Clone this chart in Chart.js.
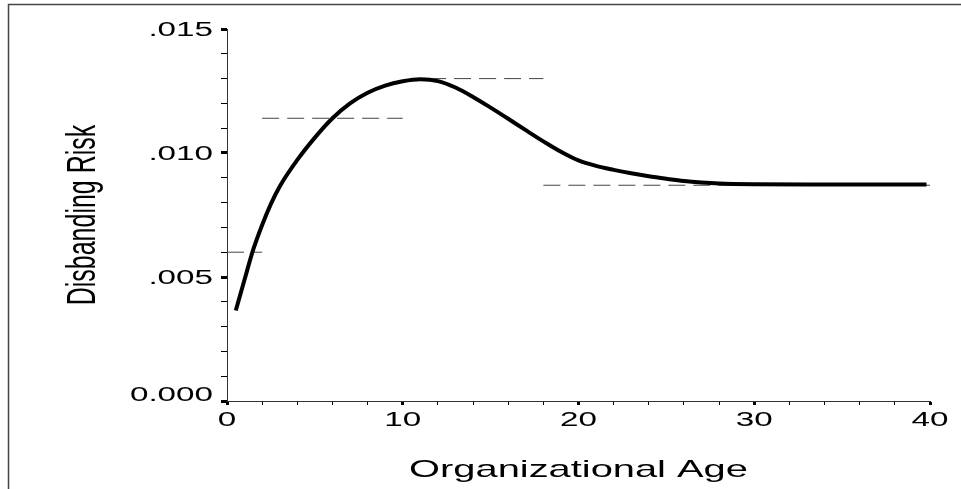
<!DOCTYPE html>
<html>
<head>
<meta charset="utf-8">
<script src="https://cdn.jsdelivr.net/npm/chart.js@4.4.1/dist/chart.umd.min.js"></script>
<style>
  html, body { margin: 0; padding: 0; background: #fff; }
  #wrap { width: 961px; height: 489px; }
</style>
</head>
<body>
<div id="wrap"><canvas id="chart" width="961" height="489"></canvas></div>
<script>
// Curve: organizational age vs disbanding risk
const ages = [0.5, 1, 1.5, 2, 2.5, 3, 4, 5, 6, 7, 8, 9, 10, 11, 12, 13, 14, 15, 16, 17, 18, 19, 20, 21, 22, 23, 24, 25, 26, 27, 28, 30, 33, 36, 39.8];
const risk = [0.00365, 0.00490, 0.00612, 0.00710, 0.00795, 0.00865, 0.00972, 0.01062, 0.01140, 0.01200, 0.01243, 0.01272, 0.01289, 0.01297, 0.01290, 0.01264, 0.01226, 0.01183, 0.01138, 0.01092, 0.01047, 0.01005, 0.00970, 0.00948, 0.00932, 0.00918, 0.00906, 0.00896, 0.00887, 0.00881, 0.00877, 0.00874, 0.00873, 0.00873, 0.00873];

// Piecewise constant estimates (dashed)
const pieceStart = [0, 2, 11.5, 18];
const pieceEnd = [2, 10, 18, 40];
const pieceRisk = [0.0060, 0.0114, 0.0130, 0.0087];

const yLabelTicks = [0, 0.005, 0.010, 0.015];
const yLabels = ["0.000", ".005", ".010", ".015"];
const xLabelTicks = [0, 10, 20, 30, 40];
const xLabels = ["0", "10", "20", "30", "40"];

const xTitle = "Organizational Age";
const yTitle = "Disbanding Risk";

const FONT = '"Liberation Sans", Arial, sans-serif';
const STRETCH = 1.66; // the original figure is stretched sideways

function isMajorY(v) {
  return yLabelTicks.some(t => Math.abs(t - v) < 1e-9);
}

const datasets = [{
  data: ages.map((a, i) => ({ x: a, y: risk[i] })),
  borderColor: "#000",
  borderWidth: 4,
  pointRadius: 0,
  cubicInterpolationMode: "monotone",
  fill: false
}];
pieceRisk.forEach((r, i) => {
  datasets.push({
    data: [{ x: pieceStart[i], y: r }, { x: pieceEnd[i], y: r }],
    borderColor: "#444",
    borderWidth: 1,
    borderDash: [17, 8],
    pointRadius: 0,
    fill: false
  });
});

// outer frame (top and left edges only)
const framePlugin = {
  id: "frame",
  beforeDraw(chart) {
    const ctx = chart.ctx;
    ctx.save();
    ctx.strokeStyle = "#444";
    ctx.lineWidth = 1.5;
    ctx.beginPath();
    ctx.moveTo(8.5, chart.height);
    ctx.lineTo(8.5, 4.5);
    ctx.lineTo(chart.width, 4.5);
    ctx.stroke();
    ctx.restore();
  }
};

function wideText(ctx, text, x, y, align) {
  ctx.save();
  ctx.translate(x, y);
  ctx.scale(STRETCH, 1);
  ctx.textAlign = align;
  ctx.textBaseline = "alphabetic";
  ctx.fillText(text, 0, 0);
  ctx.restore();
}

// tick labels and titles, drawn wide like the original
const textPlugin = {
  id: "wideText",
  afterDraw(chart) {
    const { ctx, chartArea } = chart;
    const xs = chart.scales.x, ys = chart.scales.y;
    ctx.save();
    ctx.fillStyle = "#000";
    ctx.font = "20px " + FONT;
    yLabelTicks.forEach((v, i) => {
      let py = ys.getPixelForValue(v) + 7;
      if (v === 0) py -= 7;
      wideText(ctx, yLabels[i], 213, py, "right");
    });
    xLabelTicks.forEach((v, i) => {
      wideText(ctx, xLabels[i], xs.getPixelForValue(v), 426, "center");
    });
    ctx.font = "24px " + FONT;
    wideText(ctx, xTitle, (chartArea.left + chartArea.right) / 2, 477, "center");

    ctx.font = "25px " + FONT;
    ctx.translate(95, (chartArea.top + chartArea.bottom) / 2);
    ctx.rotate(-Math.PI / 2);
    ctx.scale(1, STRETCH);
    ctx.textAlign = "center";
    ctx.textBaseline = "alphabetic";
    ctx.fillText(yTitle, 0, 0);
    ctx.restore();
  }
};

new Chart(document.getElementById("chart"), {
  type: "line",
  data: { datasets },
  options: {
    responsive: false,
    animation: false,
    layout: { padding: { top: 29, right: 31, left: 0, bottom: 0 } },
    plugins: { legend: { display: false }, tooltip: { enabled: false } },
    scales: {
      x: {
        type: "linear",
        min: 0,
        max: 40,
        afterFit(s) { s.height = 88; },
        border: { color: "#333", width: 1 },
        grid: {
          drawOnChartArea: false,
          tickLength: 4,
          tickColor: "#000",
          tickWidth: c => (xLabelTicks.includes(c.tick.value) ? 3 : 1)
        },
        ticks: { stepSize: 2, autoSkip: false, display: false }
      },
      y: {
        type: "linear",
        min: 0,
        max: 0.015,
        afterFit(s) { s.width = 227; },
        border: { color: "#333", width: 1 },
        grid: {
          drawOnChartArea: false,
          tickLength: 6,
          tickColor: "#000",
          tickWidth: c => (isMajorY(c.tick.value) ? 3 : 1)
        },
        ticks: { stepSize: 0.001, autoSkip: false, display: false }
      }
    }
  },
  plugins: [framePlugin, textPlugin]
});
</script>
</body>
</html>
